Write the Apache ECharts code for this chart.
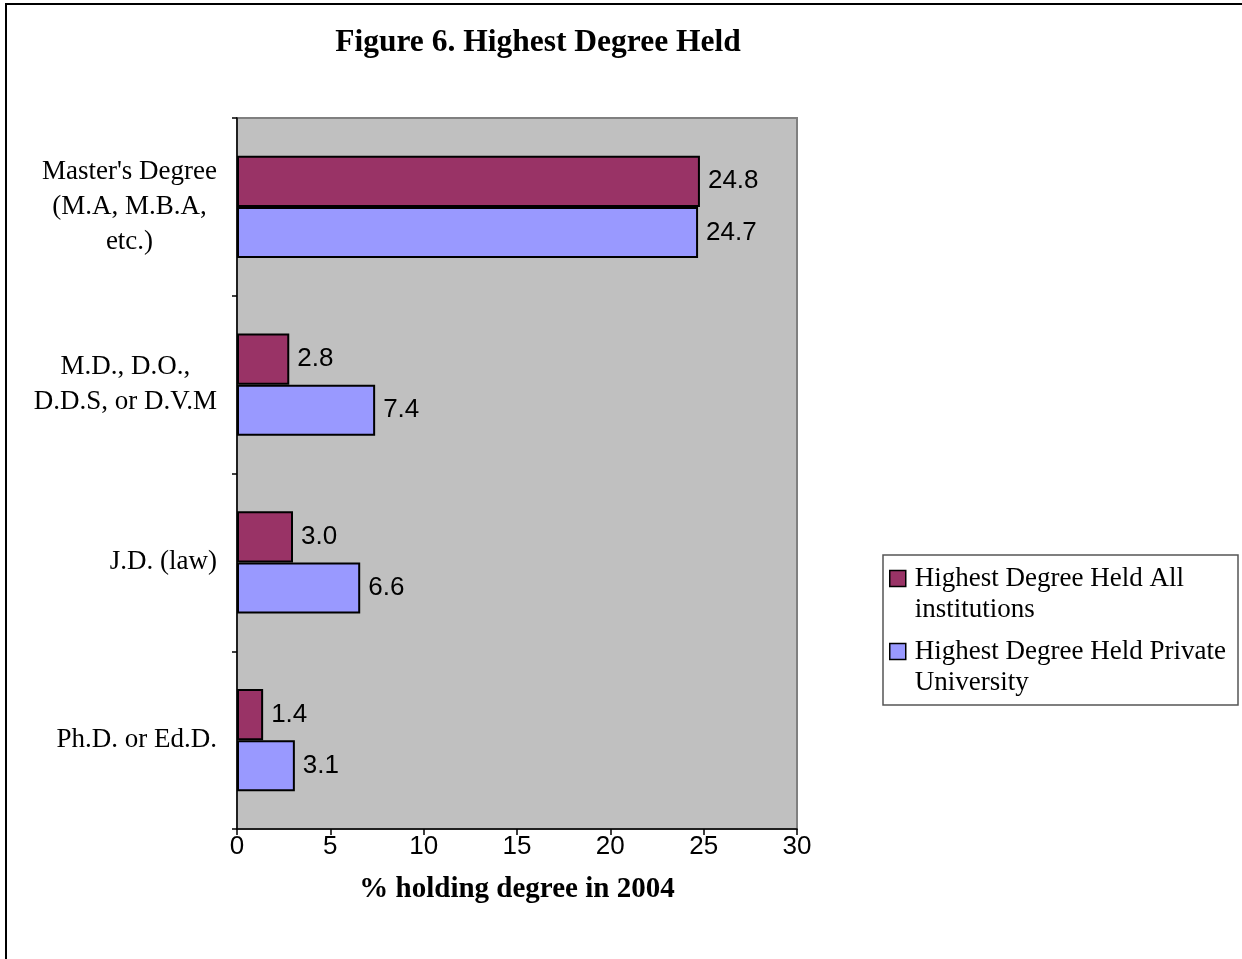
<!DOCTYPE html>
<html>
<head>
<meta charset="utf-8">
<title>Figure 6. Highest Degree Held</title>
<script src="https://cdn.jsdelivr.net/npm/echarts@6/dist/echarts.min.js"></script>
<style>
  html, body { margin: 0; padding: 0; background: #fff; }
  #chart { width: 1242px; height: 959px; }
</style>
</head>
<body>
<div id="chart"></div>
<script>
// Degree categories, listed top to bottom
const categories = [
  "Master's Degree\n(M.A, M.B.A,\netc.)",
  "M.D., D.O.,\nD.D.S, or D.V.M",
  "J.D. (law)",
  "Ph.D. or Ed.D."
];
const seriesNames = [
  "Highest Degree Held All\ninstitutions",
  "Highest Degree Held Private\nUniversity"
];
// % holding each degree in 2004
const allInstitutions = [24.8, 2.8, 3.0, 1.4];
const privateUniversity = [24.7, 7.4, 6.6, 3.1];
const xTicks = [0, 5, 10, 15, 20, 25, 30];

const serif = "'Liberation Serif', 'Times New Roman', serif";
const sans = "'Liberation Sans', Arial, sans-serif";

const chart = echarts.init(document.getElementById('chart'), null, { renderer: 'canvas' });

const labelStyle = {
  show: true,
  position: 'right',
  distance: 8,
  color: '#000',
  fontFamily: sans,
  fontSize: 26,
  formatter: p => p.value.toFixed(1)
};

chart.setOption({
  animation: false,
  backgroundColor: '#fff',
  title: {
    text: 'Figure 6. Highest Degree Held',
    left: 533,
    top: 22,
    textAlign: 'center',
    textStyle: { fontFamily: serif, fontWeight: 'bold', fontSize: 31.5, color: '#000' }
  },
  legend: {
    orient: 'vertical',
    left: 889,
    top: 532,
    padding: 0,
    itemGap: -20,
    itemWidth: 16,
    itemHeight: 16,
    icon: 'rect',
    selectedMode: false,
    itemStyle: { borderColor: '#000', borderWidth: 1.5 },
    // a blank leading line keeps the swatch level with the first text line
    formatter: name => '\n' + name,
    textStyle: {
      fontFamily: serif,
      fontSize: 27,
      lineHeight: 31,
      color: '#000',
      padding: [0, 0, 0, 4]
    },
    data: seriesNames
  },
  grid: {
    left: 237,
    right: 445,
    top: 118,
    bottom: 130,
    show: true,
    backgroundColor: '#C0C0C0',
    borderColor: '#808080',
    borderWidth: 2,
    containLabel: false
  },
  xAxis: {
    type: 'value',
    min: xTicks[0],
    max: xTicks[xTicks.length - 1],
    interval: 5,
    name: '% holding degree in 2004',
    nameLocation: 'middle',
    nameGap: 46,
    nameTextStyle: { fontFamily: serif, fontWeight: 'bold', fontSize: 29, color: '#000' },
    axisLine: { show: true, lineStyle: { color: '#000', width: 1.5 } },
    axisTick: { show: true, length: 6, lineStyle: { color: '#000', width: 1.5 } },
    axisLabel: { margin: 5, color: '#000', fontFamily: sans, fontSize: 26 },
    splitLine: { show: false }
  },
  yAxis: {
    type: 'category',
    inverse: true,
    data: categories,
    axisLine: { show: true, lineStyle: { color: '#000', width: 1.5 } },
    axisTick: { show: true, length: 5, lineStyle: { color: '#000', width: 1.5 } },
    axisLabel: {
      margin: 20,
      formatter: v => v.split('\n').map(l => '{c|' + l + '}').join('\n'),
      rich: {
        c: { align: 'center', fontFamily: serif, fontSize: 27, lineHeight: 35, color: '#000' }
      }
    },
    splitLine: { show: false }
  },
  series: [
    {
      name: seriesNames[0],
      type: 'bar',
      data: allInstitutions,
      barGap: '0%',
      barCategoryGap: '42.5%',
      itemStyle: { color: '#993366', borderColor: '#000', borderWidth: 2 },
      label: labelStyle
    },
    {
      name: seriesNames[1],
      type: 'bar',
      data: privateUniversity,
      barGap: '0%',
      barCategoryGap: '42.5%',
      itemStyle: { color: '#9999FF', borderColor: '#000', borderWidth: 2 },
      label: labelStyle
    }
  ],
  graphic: [
    // page frame (top and left edges)
    { type: 'line', shape: { x1: 6, y1: 3, x2: 6, y2: 959 }, style: { stroke: '#000', lineWidth: 2 } },
    { type: 'line', shape: { x1: 5, y1: 4, x2: 1242, y2: 4 }, style: { stroke: '#000', lineWidth: 2 } },
    // legend frame
    { type: 'rect', shape: { x: 883, y: 555, width: 355, height: 150 }, style: { fill: null, stroke: '#555', lineWidth: 1.5 }, z: 0 }
  ]
});
</script>
</body>
</html>
